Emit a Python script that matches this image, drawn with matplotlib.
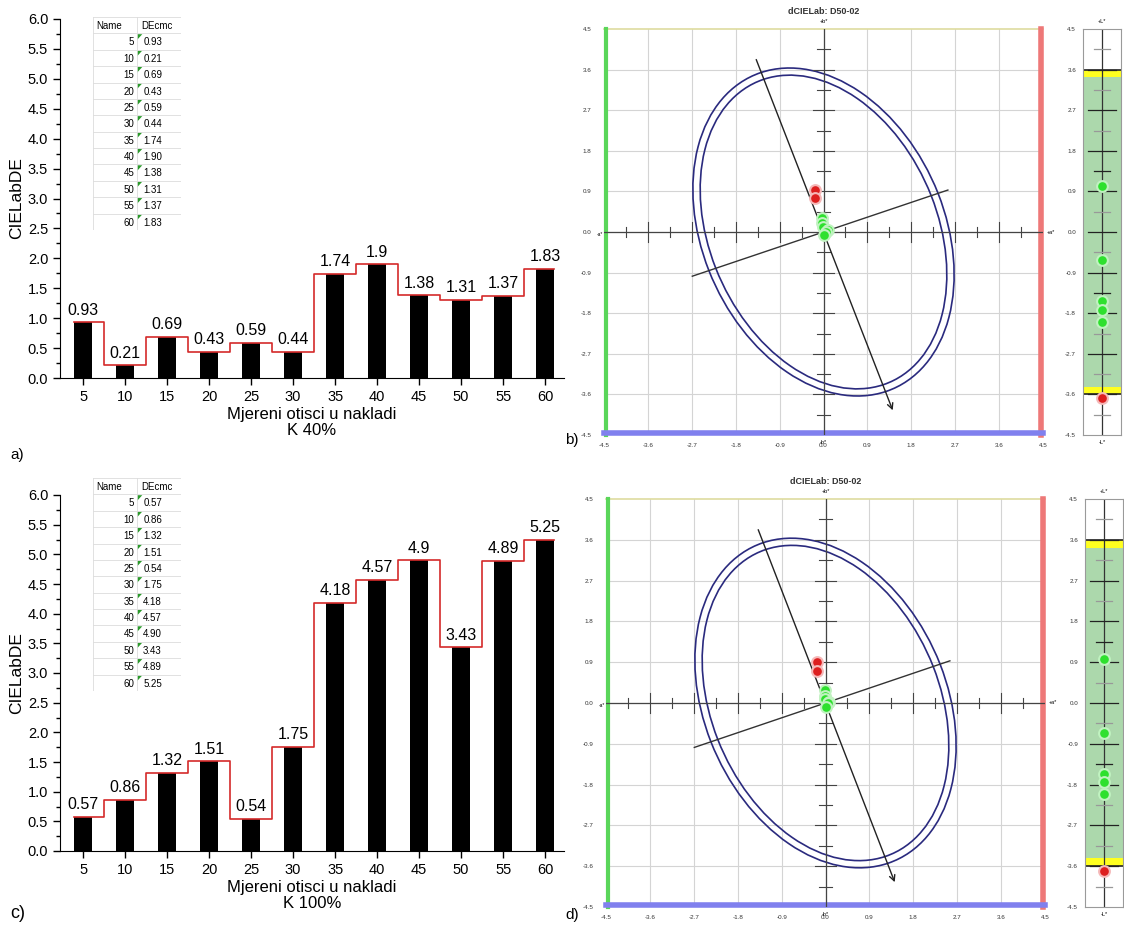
import matplotlib
matplotlib.use('Agg')
import matplotlib.pyplot as plt
import matplotlib.patches as patches
import numpy as np

W, H = 1124, 931
plt.rcParams['font.family'] = ['Liberation Sans', 'DejaVu Sans']

# ---- data ----
samples = [5, 10, 15, 20, 25, 30, 35, 40, 45, 50, 55, 60]
de_k40 = [0.93, 0.21, 0.69, 0.43, 0.59, 0.44, 1.74, 1.90, 1.38, 1.31, 1.37, 1.83]
de_k100 = [0.57, 0.86, 1.32, 1.51, 0.54, 1.75, 4.18, 4.57, 4.90, 3.43, 4.89, 5.25]

green_a_b = [(-0.04, 0.31), (-0.03, 0.20), (-0.02, 0.10), (0.10, 0.04), (0.05, 0.0), (0.02, -0.06)]
red_a_b = [(-0.17, 0.92), (-0.18, 0.75)]
green_L = [1.02, -0.62, -1.53, -1.73, -2.0]
red_L = [-3.68]

green_a_b_d = [(-0.02, 0.29), (-0.02, 0.16), (-0.02, 0.09), (0.08, 0.03), (0.06, 0.0), (0.02, -0.09)]
red_a_b_d = [(-0.18, 0.90), (-0.18, 0.71)]
green_L_d = [0.98, -0.67, -1.57, -1.75, -2.0]
red_L_d = [-3.7]

fig = plt.figure(figsize=(W / 100, H / 100), dpi=100)


def rect(x0, y0, x1, y1):
    return [x0 / W, 1 - y1 / H, (x1 - x0) / W, (y1 - y0) / H]


def bar_panel(y0, y1, vals, sub):
    ax = fig.add_axes(rect(60, y0, 564, y1))
    x = np.arange(1, len(vals) + 1)
    ax.bar(x, vals, width=0.43, color='black', zorder=2)
    xs = [x[0] - 0.215] + list(x) + [x[-1] + 0.215]
    ys = [vals[0]] + list(vals) + [vals[-1]]
    ax.step(xs, ys, where='mid', color='#d42a2a', lw=1.2, zorder=3)
    for xi, v in zip(x, vals):
        ax.text(xi, v + 0.08, f'{v:g}', ha='center', va='bottom', fontsize=11.5)
    ax.set_xlim(0.45, 12.45)
    ax.set_ylim(0, 6)
    ax.set_yticks(np.arange(0, 6.01, 0.5))
    ax.set_yticks(np.arange(0.25, 6, 0.5), minor=True)
    ax.set_yticklabels([f'{t:.1f}' for t in np.arange(0, 6.01, 0.5)])
    ax.set_xticks(x)
    ax.set_xticklabels([str(s) for s in samples])
    ax.tick_params(axis='both', which='major', labelsize=10.5, length=5, width=1)
    ax.tick_params(axis='y', which='minor', length=3, width=1)
    for s in ['top', 'right']:
        ax.spines[s].set_visible(False)
    ax.set_ylabel('CIELabDE', fontsize=12.5)
    ax.yaxis.set_label_coords(-0.071, 0.5)
    ax.set_xlabel('Mjereni otisci u nakladi\n' + sub, fontsize=12, labelpad=2,
                  linespacing=1.15)
    return ax


def table(y0, vals):
    tx = fig.add_axes(rect(93, y0, 181, y0 + 213))
    tx.set_xlim(0, 1)
    tx.set_ylim(13, 0)
    tx.axis('off')
    for r in range(14):
        tx.plot([0, 1], [r, r], color='#dcdcdc', lw=0.6)
    for c in [0, 0.5, 1]:
        tx.plot([c, c], [0, 13], color='#dcdcdc', lw=0.6)
    tx.text(0.04, 0.55, 'Name', fontsize=7, va='center')
    tx.text(0.55, 0.55, 'DEcmc', fontsize=7, va='center')
    for i, (n, v) in enumerate(zip(samples, vals)):
        tx.text(0.47, i + 1.55, str(n), fontsize=7, va='center', ha='right')
        tx.text(0.57, i + 1.55, f'{v:.2f}', fontsize=7, va='center')
        tx.add_patch(patches.Polygon([[0.5, i + 1.05], [0.56, i + 1.05], [0.5, i + 1.4]],
                                     closed=True, color='#2a9a2a', lw=0))


def ab_panel(x0, y0, x1, y1, green, red, title):
    ax = fig.add_axes(rect(x0, y0, x1, y1))
    ax.set_xlim(-4.5, 4.5)
    ax.set_ylim(-4.5, 4.5)
    for s in ax.spines.values():
        s.set_visible(False)
    ticks = np.round(np.arange(-4.5, 4.51, 0.9), 1)
    ax.set_xticks(ticks)
    ax.set_yticks(ticks)
    ax.set_xticklabels([f'{t:.1f}' for t in ticks])
    ax.set_yticklabels([f'{t:.1f}' for t in ticks])
    ax.tick_params(axis='x', length=0, labelsize=4.5, pad=6, labelcolor='#333333')
    ax.tick_params(axis='y', length=0, labelsize=4.5, pad=9, labelcolor='#333333')
    for t in ticks[1:-1]:
        ax.plot([t, t], [-4.5, 4.5], color='#d4d4d4', lw=0.8, zorder=0)
        ax.plot([-4.5, 4.5], [t, t], color='#d4d4d4', lw=0.8, zorder=0)
    # frame
    ax.plot([-4.5, 4.5], [4.5, 4.5], color='#dedca0', lw=1.2, clip_on=False)
    ax.plot([-4.46, -4.46], [-4.5, 4.5], color='#5ad65a', lw=3, clip_on=False)
    ax.plot([4.45, 4.45], [-4.5, 4.5], color='#ee7878', lw=4, clip_on=False)
    ax.plot([-4.5, 4.5], [-4.45, -4.45], color='#8080ee', lw=4, clip_on=False)
    # central cross
    ax.plot([-4.5, 4.5], [0, 0], color='#444444', lw=0.9)
    ax.plot([0, 0], [-4.5, 4.5], color='#444444', lw=0.9)
    for k in range(-9, 10):
        if k == 0:
            continue
        t = k * 0.45
        hy = 0.23 if k % 2 == 0 else 0.12
        hx = 0.22 if k % 2 == 0 else 0.13
        ax.plot([t, t], [-hy, hy], color='#444444', lw=0.8)
        ax.plot([-hx, hx], [t, t], color='#444444', lw=0.8)
    # tolerance ellipses
    ax.add_patch(patches.Ellipse((0, 0), 2 * 3.76, 2 * 2.50, angle=-70, fill=False,
                                 ec='#2a2a7e', lw=1.2))
    ax.add_patch(patches.Ellipse((0, 0), 2 * 3.60, 2 * 2.35, angle=-70, fill=False,
                                 ec='#2a2a7e', lw=1.2))
    ax.annotate('', xy=(1.44, -4.01), xytext=(-1.40, 3.88),
                arrowprops=dict(arrowstyle='->', color='#222222', lw=1.0))
    ax.plot([-2.69, 2.55], [-0.98, 0.93], color='#333333', lw=1.0)
    gx, gy = zip(*green)
    rx, ry = zip(*red)
    ax.scatter(rx, ry, s=60, color='#dd1f1f', edgecolors='#f5b8b8', linewidths=1.5, zorder=5)
    ax.scatter(gx, gy, s=60, color='#2ee02e', edgecolors='#c0f2c0', linewidths=1.5, zorder=5)
    ax.text(0, 4.62, '+b*', fontsize=4, ha='center', va='bottom')
    ax.text(0, -4.62, '-b*', fontsize=4, ha='center', va='top')
    ax.text(-4.53, -0.05, '-a*', fontsize=3.5, ha='right', va='center')
    ax.text(4.58, 0, '+a*', fontsize=4, ha='left', va='center')
    ax.set_title(title, fontsize=6.5, fontweight='bold', color='#333333', pad=11)
    return ax


def L_panel(x0, y0, x1, y1, green, red):
    ax = fig.add_axes(rect(x0, y0, x1, y1))
    ax.set_xlim(-1, 1)
    ax.set_ylim(-4.5, 4.5)
    for s in ax.spines.values():
        s.set_color('#9a9a9a')
        s.set_linewidth(0.8)
    ax.axhspan(-3.5, 3.5, color='#acd8ac', lw=0)
    ax.axhspan(3.43, 3.6, color='#ffff20', lw=0)
    ax.axhspan(-3.6, -3.43, color='#ffff20', lw=0)
    ax.plot([-1, 1], [3.6, 3.6], color='#222222', lw=1.2)
    ax.plot([-1, 1], [-3.6, -3.6], color='#222222', lw=1.2)
    ax.plot([0, 0], [-4.5, 4.5], color='#333333', lw=0.9)
    ticks = np.round(np.arange(-4.5, 4.51, 0.9), 1)
    for k in range(-9, 10):
        t = k * 0.45
        if k % 2 == 0:
            ax.plot([-0.75, 0.75], [t, t], color='#222222', lw=0.9)
        elif abs(k) in (1, 5, 7, 9):
            ax.plot([-0.4, 0.4], [t, t], color='#999999', lw=0.9)
        else:
            ax.plot([-0.4, 0.4], [t, t], color='#222222', lw=0.9)
    ax.set_xticks([])
    ax.set_yticks(ticks)
    ax.set_yticklabels([f'{t:.1f}' for t in ticks])
    ax.tick_params(length=0, labelsize=4.5, pad=5, labelcolor='#333333')
    ax.scatter([0] * len(red), red, s=60, color='#dd1f1f', edgecolors='#f5b8b8',
               linewidths=1.5, zorder=5, clip_on=False)
    ax.scatter([0] * len(green), green, s=60, color='#2ee02e', edgecolors='#c0f2c0',
               linewidths=1.5, zorder=5)
    ax.text(0, 4.62, '+L*', fontsize=4, ha='center', va='bottom')
    ax.text(0, -4.62, '-L*', fontsize=4, ha='center', va='top')


bar_panel(19, 378, de_k40, 'K 40%')
table(17, de_k40)
bar_panel(495, 851, de_k100, 'K 100%')
table(478, de_k100)

ab_panel(604, 29, 1043, 435, green_a_b, red_a_b, 'dCIELab: D50-02')
L_panel(1083, 29, 1121, 435, green_L, red_L)
ab_panel(606, 499, 1045, 907, green_a_b_d, red_a_b_d, 'dCIELab: D50-02')
L_panel(1085, 499, 1123, 907, green_L_d, red_L_d)

fig.text(10 / W, 1 - 455 / H, 'a)', fontsize=11, va='center')
fig.text(10 / W, 1 - 913 / H, 'c)', fontsize=13, va='center')
fig.text(565 / W, 1 - 440 / H, 'b)', fontsize=11, va='center')
fig.text(565 / W, 1 - 915 / H, 'd)', fontsize=11, va='center')

fig.savefig('out.png', dpi=100, facecolor='white')
